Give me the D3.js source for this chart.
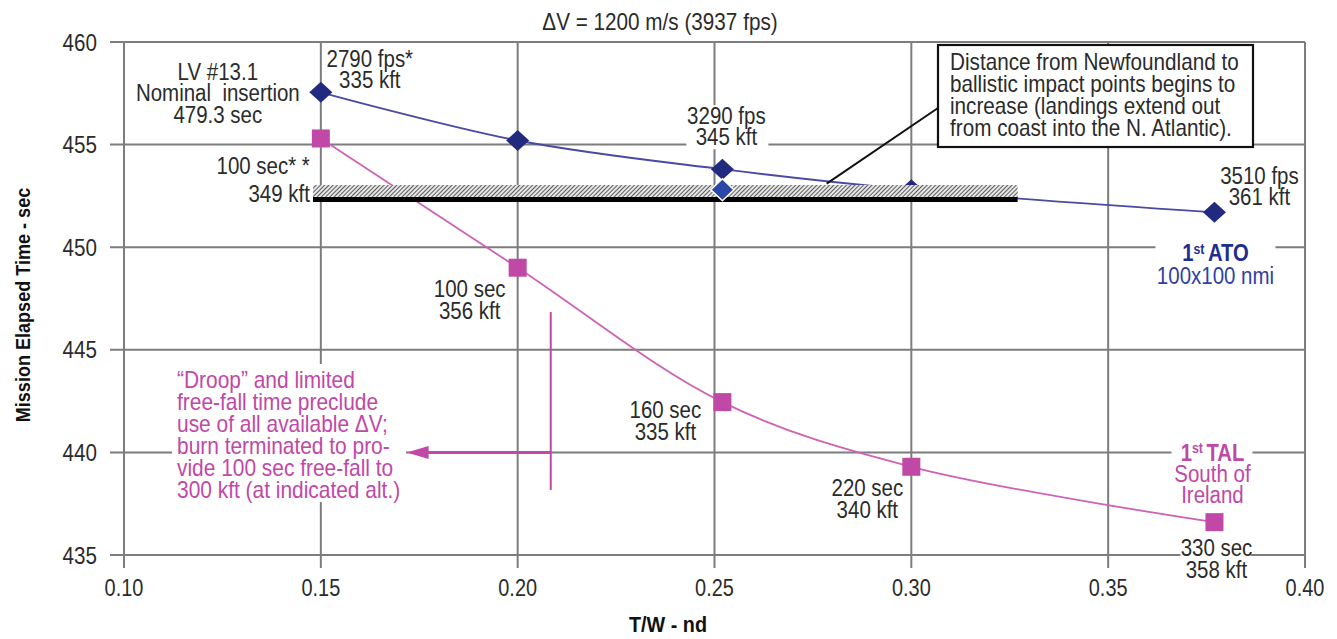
<!DOCTYPE html>
<html><head><meta charset="utf-8">
<script src="https://cdn.jsdelivr.net/npm/d3@7"></script>
<style>
html,body{margin:0;padding:0;background:#fff;}
text{font-family:"Liberation Sans",Arial,Helvetica,sans-serif;}
</style></head>
<body><svg id="c" width="1337" height="639"></svg>
<script>
// ---- data ----
const xTicks = [0.10, 0.15, 0.20, 0.25, 0.30, 0.35, 0.40];
const yTicks = [435, 440, 445, 450, 455, 460];
const atoTW  = [0.15, 0.20, 0.252, 0.30, 0.377];
const atoMET = [457.55, 455.2, 453.8, 452.8, 451.7];
const atoExtraTW  = [0.252];
const atoExtraMET = [452.8];
const talTW  = [0.15, 0.20, 0.252, 0.30, 0.377];
const talMET = [455.3, 449.0, 442.45, 439.3, 436.6];
const atoLabels = [["2790 fps*", "335 kft"], ["3290 fps", "345 kft"], ["3510 fps", "361 kft"]];
const talLabels = [["100 sec* *", "349 kft"], ["100 sec", "356 kft"], ["160 sec", "335 kft"], ["220 sec", "340 kft"], ["330 sec", "358 kft"]];
const bandTW  = [0.148, 0.327];
const bandMET = [452.45, 453.03];
const bandLineMET = 452.32;
const nominalText = ["LV #13.1", "Nominal\u00a0 insertion", "479.3 sec"];
const boxText = ["Distance from Newfoundland to", "ballistic impact points begins to", "increase (landings extend out", "from coast into the N. Atlantic)."];
const droopText = ["\u201cDroop\u201d and limited", "free-fall time preclude", "use of all available \u0394V;", "burn terminated to pro-", "vide 100 sec free-fall to", "300 kft (at indicated alt.)"];
const droopBracketTW = 0.2084, droopBracketMET = [446.84, 438.17], droopArrowTW = 0.1718, droopArrowMET = 440.0;
const titleText = "\u0394V = 1200 m/s (3937 fps)";
const xTitle = "T/W - nd", yTitle = "Mission Elapsed Time - sec";

// ---- setup ----
const svg = d3.select("#c");
const x = d3.scaleLinear().domain([0.10, 0.40]).range([124, 1305]);
const y = d3.scaleLinear().domain([435, 460]).range([555, 42]);
const GRID = "#7d7d7d", TXT = "#2b2b2b", BLUE = "#212a7e", BLUE2 = "#2b47a8", MAG = "#c048a6", MAGL = "#cf62b5";
const FS = 23, SX = 0.89;

const defs = svg.append("defs");
const pat = defs.append("pattern").attr("id", "hatch").attr("patternUnits", "userSpaceOnUse")
  .attr("width", 3).attr("height", 3).attr("patternTransform", "rotate(45)");
pat.append("rect").attr("width", 3).attr("height", 3).attr("fill", "#e6e6e6");
pat.append("line").attr("x1", 0).attr("y1", 0).attr("x2", 0).attr("y2", 3).attr("stroke", "#3a3a3a").attr("stroke-width", 1.6);

// condensed multi-line text helper
function lines(arr, cx, cy0, step, opts = {}) {
  const t = svg.append("text").attr("text-anchor", opts.anchor || "middle")
    .attr("transform", `translate(${cx},${cy0}) ${opts.rot ? "rotate(" + opts.rot + ")" : ""} scale(${opts.sx || SX},1)`)
    .attr("font-size", opts.size || FS).attr("fill", opts.fill || TXT)
    .attr("font-weight", opts.weight || "normal");
  arr.forEach((s, i) => t.append("tspan").attr("x", 0).attr("y", i * step).attr("dy", "0.36em").text(s));
  return t;
}

// grid
const g = svg.append("g");
g.selectAll(".vg").data(xTicks).join("line")
  .attr("x1", d => x(d)).attr("x2", d => x(d)).attr("y1", y(460)).attr("y2", y(435) + 13)
  .attr("stroke", GRID).attr("stroke-width", 2);
g.selectAll(".hg").data(yTicks).join("line")
  .attr("x1", x(0.10) - 14).attr("x2", x(0.40)).attr("y1", d => y(d)).attr("y2", d => y(d))
  .attr("stroke", GRID).attr("stroke-width", 2);

// tick labels
yTicks.forEach(d => lines([String(d)], 97, y(d), 0, { anchor: "end", size: 24, sx: 0.86 }));
xTicks.forEach(d => lines([d3.format(".2f")(d)], x(d), 587, 0, { size: 24, sx: 0.83 }));

// titles
lines([titleText], 660, 22, 0, { size: 23, sx: 0.9 });
lines([xTitle], 668, 624, 0, { size: 22, sx: 0.9, weight: "bold", fill: "#111" });
lines([yTitle], 22, 305, 0, { size: 21, sx: 0.86, weight: "bold", fill: "#111", rot: -90 });

// knockout helper
function knock(x0, y0, w, h) {
  svg.append("rect").attr("x", x0).attr("y", y0).attr("width", w).attr("height", h).attr("fill", "#fff");
}

// lines
const curve = d3.curveCatmullRom.alpha(0.5);
const atoPts = atoTW.map((t, i) => [t, atoMET[i]]);
const talPts = talTW.map((t, i) => [t, talMET[i]]);
const lineGen = d3.line().x(d => x(d[0])).y(d => y(d[1])).curve(curve);
svg.append("path").attr("d", lineGen(atoPts)).attr("fill", "none").attr("stroke", "#4a4aa2").attr("stroke-width", 1.8);
svg.append("path").attr("d", lineGen(talPts)).attr("fill", "none").attr("stroke", MAGL).attr("stroke-width", 1.8);

// diamonds
const diamond = (hw, hh) => `M0,${-hh}L${hw},0L0,${hh}L${-hw},0Z`;
svg.append("g").selectAll("path").data(atoPts).join("path")
  .attr("transform", d => `translate(${x(d[0])},${y(d[1])})`)
  .attr("d", diamond(11.5, 10.5)).attr("fill", BLUE);

// hatched band
svg.append("rect").attr("x", x(bandTW[0])).attr("width", x(bandTW[1]) - x(bandTW[0]))
  .attr("y", y(bandMET[1])).attr("height", y(bandMET[0]) - y(bandMET[1])).attr("fill", "url(#hatch)");
svg.append("line").attr("x1", x(bandTW[0])).attr("x2", x(bandTW[1]))
  .attr("y1", y(bandLineMET)).attr("y2", y(bandLineMET)).attr("stroke", "#000").attr("stroke-width", 5);

// extra diamond on band
const extraPts = atoExtraTW.map((t, i) => [t, atoExtraMET[i]]);
svg.append("g").selectAll("path").data(extraPts).join("path")
  .attr("transform", d => `translate(${x(d[0])},${y(d[1])})`)
  .attr("d", diamond(11.5, 11)).attr("fill", BLUE2).attr("stroke", "#fff").attr("stroke-width", 1.5);

// squares
svg.append("g").selectAll("rect").data(talPts).join("rect")
  .attr("x", d => x(d[0]) - 9).attr("y", d => y(d[1]) - 9).attr("width", 18).attr("height", 18).attr("fill", MAG);

// ATO labels
const pA = atoPts.map(d => [x(d[0]), y(d[1])]);
lines(nominalText, pA[0][0] - 103, pA[0][1] - 21, 21.5);
lines(atoLabels[0], pA[0][0] + 49, pA[0][1] - 34, 21);
knock(pA[2][0] - 36, pA[2][1] - 64, 82, 44);
lines(atoLabels[1], pA[2][0] + 4, pA[2][1] - 54, 22);
lines(atoLabels[2], pA[4][0] + 45, pA[4][1] - 37, 21);

// ATO legend
knock(x(0.377) - 59, y(450) - 8, 120, 44);
const ato = svg.append("text").attr("text-anchor", "middle")
  .attr("transform", `translate(${x(0.377) + 1},${y(450) + 6}) scale(0.88,1)`).attr("dy", "0.36em")
  .attr("font-size", 23).attr("font-weight", "bold").attr("fill", "#1f2d8e");
ato.append("tspan").text("1");
ato.append("tspan").attr("font-size", 14).attr("baseline-shift", "super").text("st");
ato.append("tspan").attr("dx", 4).text("ATO");
lines(["100x100 nmi"], x(0.377) + 1, y(450) + 29, 0, { fill: "#2e3fa4" });

// TAL labels
const pT = talPts.map(d => [x(d[0]), y(d[1])]);
lines(talLabels[0], pT[0][0] - 11, pT[0][1] + 27, 28.5, { anchor: "end" });
lines(talLabels[1], pT[1][0] - 48, pT[1][1] + 21, 22);
lines(talLabels[2], pT[2][0] - 57, pT[2][1] + 8, 22);
lines(talLabels[3], pT[3][0] - 44, pT[3][1] + 21, 22);
knock(pT[4][0] - 34, y(435) - 4, 70, 8);
lines(talLabels[4], pT[4][0] + 2, pT[4][1] + 26, 22);

// TAL legend
knock(x(0.377) - 43, y(440) - 6, 81, 12);
const tal = svg.append("text").attr("text-anchor", "middle")
  .attr("transform", `translate(${x(0.377) - 2},${y(440)}) scale(0.88,1)`).attr("dy", "0.36em")
  .attr("font-size", 23).attr("font-weight", "bold").attr("fill", MAG);
tal.append("tspan").text("1");
tal.append("tspan").attr("font-size", 14).attr("baseline-shift", "super").text("st");
tal.append("tspan").attr("dx", 4).text("TAL");
lines(["South of", "Ireland"], x(0.377) - 2, y(440) + 21, 21, { fill: MAG });

// annotation box
const bx = 938, by = 45, bw = 315, bh = 102;
svg.append("line").attr("x1", bx).attr("y1", by + 63).attr("x2", x(0.2785)).attr("y2", y(453.1))
  .attr("stroke", "#111").attr("stroke-width", 2);
svg.append("rect").attr("x", bx).attr("y", by).attr("width", bw).attr("height", bh)
  .attr("fill", "#fff").attr("stroke", "#111").attr("stroke-width", 2.2);
lines(boxText, bx + 12, by + 17, 22, { anchor: "start", sx: 0.9 });

// droop annotation
knock(172, 364, 234, 138);
lines(droopText, 177, 380, 22, { anchor: "start", fill: MAG, sx: 0.91 });
svg.append("line").attr("x1", x(droopBracketTW)).attr("x2", x(droopBracketTW))
  .attr("y1", y(droopBracketMET[0])).attr("y2", y(droopBracketMET[1])).attr("stroke", MAG).attr("stroke-width", 2);
const ay = y(droopArrowMET), tipX = x(droopArrowTW);
svg.append("line").attr("x1", x(droopBracketTW)).attr("x2", tipX + 18).attr("y1", ay).attr("y2", ay)
  .attr("stroke", MAG).attr("stroke-width", 3);
svg.append("path").attr("d", `M${tipX},${ay}L${tipX + 22},${ay - 6.5}L${tipX + 22},${ay + 6.5}Z`).attr("fill", MAG);
</script></body></html>
